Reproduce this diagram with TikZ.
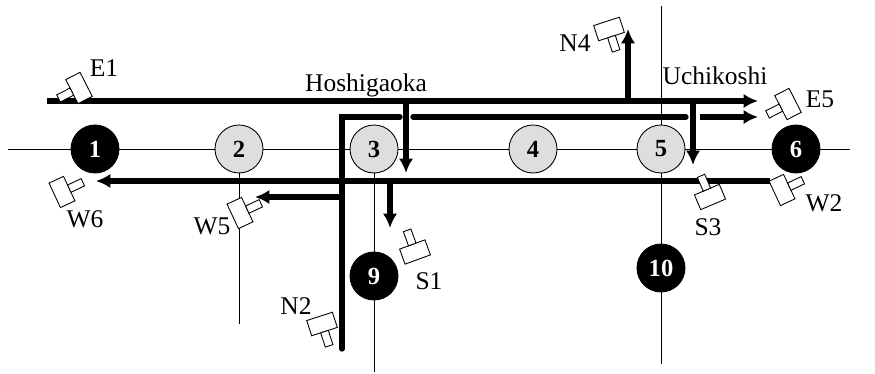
\documentclass[tikz,border=0pt]{standalone}
\usepackage{fontspec}
\setmainfont{Liberation Serif}
\usetikzlibrary{arrows.meta,backgrounds}
\tikzset{
  station/.style={circle,draw,line width=0.5pt,minimum size=0.96cm,inner sep=0pt,font=\fontsize{14}{16}\selectfont\bfseries},
  major/.style={station,fill=black,text=white},
  minor/.style={station,fill=black!13},
  caption/.style={inner sep=0pt,font=\fontsize{14.5}{16}\selectfont},
  road/.style={line width=0.55pt},
  route/.style={line width=3pt},
  flow/.style={route,-{Latex[length=8.2pt,width=8.2pt]}},
  camera/.pic={
    \draw[fill=white,line width=0.5pt] (-8,-13.5) rectangle (8,13.5);
    \draw[fill=white,line width=0.5pt] (-23,-4) rectangle (-8,4);
  }
}
\begin{document}
\begin{tikzpicture}[x=0.02cm,y=-0.02cm,line join=miter]
\useasboundingbox (0,0) rectangle (875,374);

% stations
\node[major] (n1) at (95,149) {1};
\node[minor] (n2) at (239,149) {2};
\node[minor] (n3) at (374,149) {3};
\node[minor] (n4) at (533,149) {4};
\node[minor] (n5) at (661,149) {5};
\node[major] (n6) at (796,149) {6};
\node[major] (n9) at (374,276) {9};
\node[major] (n10) at (661,268) {10};

% free ends of the roads
\coordinate (Wend) at (8,149);
\coordinate (Eend) at (850,149);
\coordinate (s2) at (239,324);
\coordinate (s9) at (374,372);
\coordinate (top) at (661,6);
\coordinate (s10) at (661,364);

% ends and bends of the routes
\coordinate (a1) at (47,101);
\coordinate (a2) at (758,101);
\coordinate (a3) at (628,101);
\coordinate (a4) at (628,29);
\coordinate (a5) at (406,101);
\coordinate (a6) at (406,173);
\coordinate (a7) at (693,101);
\coordinate (a8) at (693,165);
\coordinate (b1) at (342,349);
\coordinate (b2) at (342,117);
\coordinate (b3) at (400,117);
\coordinate (b4) at (413,117);
\coordinate (b5) at (686,117);
\coordinate (b6) at (700,117);
\coordinate (b7) at (758,117);
\coordinate (c1) at (770,181);
\coordinate (c2) at (96,181);
\coordinate (c3) at (342,197);
\coordinate (c4) at (255,197);
\coordinate (c5) at (390,181);
\coordinate (c6) at (390,228);

\begin{scope}[on background layer]
\draw[road] (Wend)--(n1)--(n2)--(n3)--(n4)--(n5)--(n6)--(Eend);
\draw[road] (n2)--(s2);
\draw[road] (n3)--(n9)--(s9);
\draw[road] (top)--(n5)--(n10)--(s10);

\draw[flow] (a1)--(a2);
\draw[flow] (a3)--(a4);
\draw[flow] (a5)--(a6);
\draw[flow] (a7)--(a8);
\draw[route,line cap=round] (b1)--(b2)--(b3);
\draw[route,line cap=round] (b4)--(b5);
\draw[flow] (b6)--(b7);
\draw[flow] (c1)--(c2);
\draw[flow] (c3)--(c4);
\draw[flow] (c5)--(c6);
\end{scope}

% cameras
\pic[rotate=27] at (79,88) {camera};
\pic[rotate=205] at (62,192) {camera};
\pic[rotate=205] at (240,213) {camera};
\pic[rotate=-70] at (415,252) {camera};
\pic[rotate=108] at (322,324) {camera};
\pic[rotate=108] at (609,29) {camera};
\pic[rotate=27] at (788,104) {camera};
\pic[rotate=205] at (782,190) {camera};
\pic[rotate=-67] at (710,197) {camera};

% labels
\node[caption] (lE1) at (104,68) {E1};
\node[caption] (lW6) at (85,219) {W6};
\node[caption] (lW5) at (212,226) {W5};
\node[caption] (lN2) at (296,306) {N2};
\node[caption] (lS1) at (429,281) {S1};
\node[caption] (lN4) at (575,43) {N4};
\node[caption] (lE5) at (820,99) {E5};
\node[caption] (lW2) at (824,203) {W2};
\node[caption] (lS3) at (708,227) {S3};
\node[caption] (lHoshi) at (366,85) {Hoshigaoka};
\node[caption] (lUchi) at (715,76) {Uchikoshi};
\end{tikzpicture}
\end{document}
